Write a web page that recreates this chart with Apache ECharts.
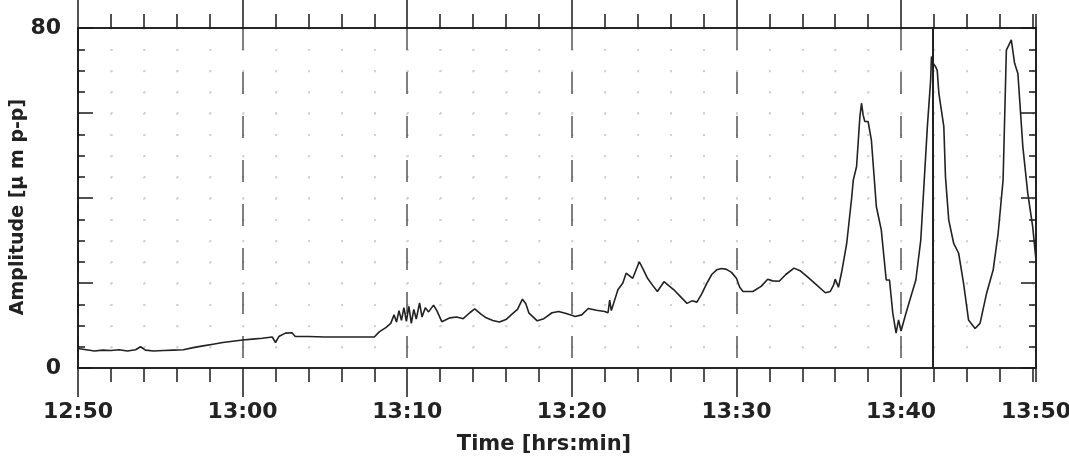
<!DOCTYPE html>
<html>
<head>
<meta charset="utf-8">
<script src="https://cdn.jsdelivr.net/npm/echarts@6/dist/echarts.min.js"></script>
<style>
html,body{margin:0;padding:0;background:#fff;}
#chart{width:1069px;height:465px;}
</style>
</head>
<body>
<div id="chart"></div>
<script>
// Minutes since 12:50
const timeMin = [
  0, 0.5, 1.0, 1.5, 2.0, 2.5, 3.0, 3.5, 3.8, 4.1, 4.6, 5.2, 5.8, 6.4, 7.0, 7.6, 8.2, 8.8, 9.4, 10.0,
  10.6, 11.2, 11.8, 12.0, 12.2, 12.6, 13.0, 13.2, 14, 15, 16, 17, 18.0, 18.3, 18.7, 19.0, 19.2, 19.35, 19.5, 19.65,
  19.8, 19.95, 20.1, 20.25, 20.4, 20.55, 20.75, 20.9, 21.1, 21.3, 21.6, 21.8, 22.1, 22.6, 23.0, 23.4, 23.8, 24.1, 24.5, 24.8,
  25.2, 25.6, 26.0, 26.4, 26.7, 27.0, 27.2, 27.4, 27.9, 28.3, 28.8, 29.2, 29.6, 30.0, 30.2, 30.6, 31.0, 31.5, 32.0, 32.2,
  32.3, 32.4, 32.8, 33.1, 33.3, 33.7, 34.1, 34.3, 34.6, 34.9, 35.2, 35.6, 36.2, 36.6, 37.0, 37.3, 37.6, 37.9, 38.2, 38.5,
  38.8, 39.1, 39.4, 39.7, 40.0, 40.2, 40.4, 41.0, 41.5, 41.9, 42.2, 42.6, 43.0, 43.5, 43.9, 44.3, 44.8, 45.4, 45.7, 45.9,
  46.0, 46.2, 46.4, 46.7, 47.0, 47.1, 47.3, 47.5, 47.6, 47.7, 47.8, 48.0, 48.2, 48.5, 48.8, 49.1, 49.3, 49.5, 49.7, 49.85,
  50.0, 50.3, 50.6, 50.9, 51.2, 51.6, 51.8, 51.85, 51.95, 52.1, 52.2, 52.3, 52.6, 52.7, 52.9, 53.2, 53.5, 53.8, 54.1, 54.5,
  54.8, 55.2, 55.6, 55.9, 56.2, 56.4, 56.6, 56.7, 56.9, 57.1, 57.4, 57.7, 58.0, 58.2
];
// Amplitude [µm p-p]
const amplitude = [
  4.6, 4.3, 4.0, 4.2, 4.1, 4.3, 4.0, 4.3, 5.0, 4.2, 4.0, 4.1, 4.2, 4.3, 4.8, 5.2, 5.6, 6.0, 6.3, 6.6,
  6.8, 7.0, 7.3, 6.0, 7.4, 8.2, 8.3, 7.4, 7.4, 7.3, 7.3, 7.3, 7.3, 8.5, 9.5, 10.5, 12.5, 10.8, 13.5, 11.2,
  14.2, 11.0, 14.5, 10.5, 13.8, 11.5, 15.3, 12.0, 14.2, 13.2, 14.8, 13.5, 10.9, 11.8, 12.0, 11.6, 13.0, 13.9, 12.6, 11.8,
  11.2, 10.8, 11.4, 12.8, 13.8, 16.2, 15.2, 12.9, 11.1, 11.6, 13.0, 13.3, 12.9, 12.4, 12.1, 12.5, 14.0, 13.6, 13.3, 13.0,
  16.0, 13.5, 18.4, 20.0, 22.3, 21.1, 25.0, 23.5, 21.1, 19.5, 18.0, 20.3, 18.4, 16.8, 15.2, 15.8, 15.5, 17.5, 19.9, 22.0,
  23.1, 23.4, 23.2, 22.5, 21.1, 19.0, 18.0, 18.0, 19.2, 20.9, 20.5, 20.4, 22.0, 23.5, 22.8, 21.5, 19.8, 17.7, 18.0, 19.5,
  20.9, 19.0, 22.7, 29.3, 40.0, 44.2, 47.4, 59.1, 62.3, 59.5, 58.0, 58.0, 53.6, 38.0, 32.5, 20.7, 20.7, 12.9, 8.2, 11.3,
  8.7, 12.9, 16.8, 20.7, 30.1, 56.8, 67.8, 73.3, 71.7, 70.9, 70.0, 64.6, 56.8, 45.0, 34.8, 29.3, 27.0, 19.9, 11.3, 9.3,
  10.5, 17.6, 23.1, 31.7, 44.2, 74.8, 76.4, 77.2, 71.7, 69.3, 52.1, 41.1, 33.2, 25.4
];
const xMax = 58.2;                 // end of recorded axis (minutes after 12:50)
const xMajorMin = [0, 10, 20, 30, 40, 50];
const xLabelMin = [0, 10, 20, 30, 40, 50, 58.2];
const xLabels = ['12:50', '13:00', '13:10', '13:20', '13:30', '13:40', '13:50'];
const yLabels = [0, 80];
const markerMin = 51.9;            // solid vertical marker line

const FONT = '"DejaVu Sans", Verdana, sans-serif';
const AXC = '#1a1a1a';

function xAxisDef(pos, major, withLabels) {
  const a = {
    type: 'value', position: pos, min: 0, max: xMax,
    interval: major ? 10 : 2,
    axisLine: { show: true, onZero: false, lineStyle: { color: AXC, width: 1.6 } },
    axisTick: { show: true, inside: false, length: major ? 29 : 14, lineStyle: { color: AXC, width: 1.5 } },
    axisLabel: { show: false },
    splitLine: { show: false }
  };
  if (major) {
    a.axisTick.customValues = xMajorMin;
  }
  if (withLabels) {
    a.axisLabel = {
      show: true, customValues: xLabelMin, showMaxLabel: true, showMinLabel: true,
      margin: 33, color: '#222', fontFamily: FONT, fontWeight: 'bold', fontSize: 22,
      formatter: function (v) { const i = xLabelMin.indexOf(v); return i >= 0 ? xLabels[i] : ''; }
    };
    a.name = 'Time [hrs:min]';
    a.nameLocation = 'middle';
    a.nameGap = 66;
    a.nameMoveOverlap = false;
    a.nameTextStyle = { color: '#222', fontFamily: FONT, fontWeight: 'bold', fontSize: 21, padding: [0, 26, 0, 0] };
    a.splitLine = { show: true, lineStyle: { color: '#555', width: 1.5, type: [22, 22] } };
  }
  if (!major && pos === 'bottom') {
    a.splitLine = { show: true, lineStyle: { color: '#d2d2d2', width: 1.8, type: [1.8, 19.45] } };
  }
  return a;
}

function yAxisDef(pos, major, withLabels) {
  const a = {
    type: 'value', position: pos, min: 0, max: 80,
    interval: major ? 20 : 5,
    axisLine: { show: true, onZero: false, lineStyle: { color: AXC, width: 1.6 } },
    axisTick: { show: true, inside: true, length: major ? 15 : 7, lineStyle: { color: AXC, width: 1.5 } },
    axisLabel: { show: false },
    splitLine: { show: false }
  };
  if (withLabels) {
    a.axisLabel = {
      show: true, customValues: yLabels, margin: 17, color: '#222',
      fontFamily: FONT, fontWeight: 'bold', fontSize: 22, padding: [0, 0, 8, 0]
    };
    a.name = 'Amplitude [\u03bc m p-p]';
    a.nameLocation = 'middle';
    a.nameGap = 50;
    a.nameMoveOverlap = false;
    a.nameTextStyle = { color: '#222', fontFamily: FONT, fontWeight: 'bold', fontSize: 19, padding: [0, 18, 0, 0] };
  }
  if (!major && pos === 'left') {
    a.splitLine = { show: true, lineStyle: { color: '#d2d2d2', width: 1.8, type: [1.8, 31.1] } };
  }
  return a;
}

const chart = echarts.init(document.getElementById('chart'), null, { renderer: 'canvas' });
chart.setOption({
  animation: false,
  backgroundColor: '#fff',
  grid: { left: 78, right: 33, top: 28, bottom: 97, containLabel: false, outerBoundsMode: 'none' },
  xAxis: [
    xAxisDef('bottom', false, false),
    xAxisDef('bottom', true, true),
    xAxisDef('top', false, false),
    xAxisDef('top', true, false)
  ],
  yAxis: [
    yAxisDef('left', false, false),
    yAxisDef('left', true, true),
    yAxisDef('right', false, false),
    yAxisDef('right', true, false)
  ],
  series: [{
    type: 'line',
    xAxisIndex: 0, yAxisIndex: 0,
    data: timeMin.map((t, i) => [t, amplitude[i]]),
    showSymbol: false,
    smooth: false,
    lineStyle: { color: '#222', width: 1.6 },
    z: 5,
    markLine: {
      silent: true, symbol: ['none', 'none'], label: { show: false },
      lineStyle: { color: '#222', type: 'solid', width: 2 },
      data: [{ xAxis: markerMin }]
    }
  }]
});
</script>
</body>
</html>
